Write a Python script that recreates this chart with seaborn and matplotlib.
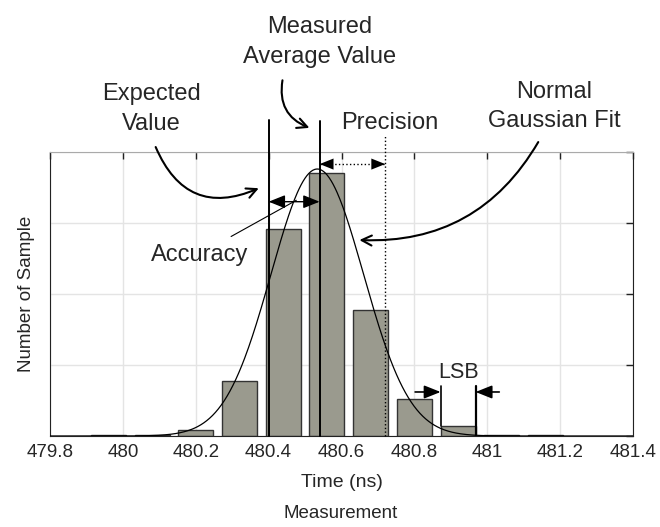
import matplotlib
matplotlib.use('Agg')
import matplotlib.pyplot as plt
import seaborn as sns
import numpy as np

# histogram of measured times (bin centres in ns, sample counts in arbitrary units)
bin_centers = [479.96, 480.08, 480.20, 480.32, 480.44, 480.56, 480.68, 480.80, 480.92, 481.04, 481.16]
sample_counts = [0.012, 0.012, 0.09, 0.77, 2.92, 3.71, 1.78, 0.52, 0.14, 0.02, 0.008]
bin_width = 0.12

xtick_values = [479.8, 480.0, 480.2, 480.4, 480.6, 480.8, 481.0, 481.2, 481.4]
xtick_labels = ['479.8', '480', '480.2', '480.4', '480.6', '480.8', '481', '481.2', '481.4']
ytick_values = [0, 1, 2, 3, 4]

expected_value = 480.40
measured_average = 480.54
precision_edge = 480.72
lsb_bin = 8  # index of the bin used to show one LSB

sns.set_style('white')
plt.rcParams['font.family'] = ['Liberation Sans', 'DejaVu Sans']
narrow = ['Liberation Sans Narrow', 'Liberation Sans', 'DejaVu Sans']

fig = plt.figure(figsize=(6.6, 5.27), dpi=100)
ax = fig.add_axes([50 / 660, 1 - 436 / 527, 583 / 660, 284 / 527])

edges = [c - bin_width / 2 for c in bin_centers] + [bin_centers[-1] + bin_width / 2]
sns.histplot(x=bin_centers, weights=sample_counts, bins=edges, shrink=0.8,
             color='#9a9a8e', edgecolor='#333333', linewidth=1, alpha=1, ax=ax, zorder=2)

# gaussian fit of the histogram (log-parabola least squares)
a, b, c = np.polyfit(bin_centers, np.log(sample_counts), 2, w=sample_counts)
mu = -b / (2 * a)
sigma = np.sqrt(-1 / (2 * a))
peak = np.exp(c - b ** 2 / (4 * a))
xs = np.linspace(479.8, 481.4, 600)
sns.lineplot(x=xs, y=peak * np.exp(-(xs - mu) ** 2 / (2 * sigma ** 2)),
             color='black', linewidth=0.9, ax=ax, zorder=4)

ax.set_xlim(479.8, 481.4)
ax.set_ylim(0, 4)
ax.set_xticks(xtick_values)
ax.set_xticklabels(xtick_labels, fontsize=13.5)
ax.set_yticks(ytick_values)
ax.tick_params(axis='y', labelleft=False)
ax.tick_params(direction='in', top=True, right=True, length=5, width=1, colors='#222222')
ax.tick_params(axis='x', labelcolor='#262626', pad=6)
ax.grid(True, color='#e4e4e4', linewidth=1)
ax.set_axisbelow(True)
for side in ['left', 'right', 'bottom']:
    ax.spines[side].set_color('#222222')
ax.spines['top'].set_color('#aaaaaa')
ax.set_xlabel('Time (ns)', fontsize=14, color='#262626', labelpad=9)
ax.set_ylabel('Number of Sample', fontsize=13.5, color='#262626', labelpad=11)
fig.text(341 / 660, 1 - 513 / 527, 'Measurement', ha='center', va='center',
         fontsize=13.5, color='#262626')

# reference lines
ax.plot([expected_value] * 2, [0, 4.45], color='black', lw=1.4, clip_on=False, zorder=5)
ax.plot([measured_average] * 2, [0, 4.44], color='black', lw=1.4, clip_on=False, zorder=5)
ax.plot([precision_edge] * 2, [0, 4.24], color='black', lw=1, ls=':', clip_on=False, zorder=5)

# accuracy arrow (solid) and precision arrow (dotted shaft, filled heads)
head = dict(mutation_scale=20, color='black', shrinkA=0, shrinkB=0)
ax.annotate('', xy=(measured_average, 3.30), xytext=(expected_value, 3.30),
            arrowprops=dict(head, arrowstyle='<|-|>,head_length=0.5,head_width=0.2', lw=1), zorder=6)
ax.plot([measured_average, precision_edge], [3.83, 3.83], color='black', lw=1, ls=':', zorder=6)
ax.annotate('', xy=(precision_edge, 3.83), xytext=(measured_average, 3.83),
            arrowprops=dict(head, arrowstyle='<|-|>,head_length=0.5,head_width=0.2', lw=0), zorder=6)

# LSB marker
lsb_left = bin_centers[lsb_bin] - 0.4 * bin_width
lsb_right = bin_centers[lsb_bin] + 0.4 * bin_width
ax.plot([lsb_left] * 2, [sample_counts[lsb_bin], 0.71], color='black', lw=1.2, zorder=5)
ax.plot([lsb_right] * 2, [0, 0.71], color='black', lw=1.6, zorder=5)
ax.annotate('', xy=(lsb_left, 0.62), xytext=(lsb_left - 0.07, 0.62),
            arrowprops=dict(head, arrowstyle='-|>,head_length=0.5,head_width=0.2', lw=1.2))
ax.annotate('', xy=(lsb_right, 0.62), xytext=(lsb_right + 0.065, 0.62),
            arrowprops=dict(head, arrowstyle='-|>,head_length=0.5,head_width=0.2', lw=1.2))
ax.text(bin_centers[lsb_bin], 0.90, 'LSB', ha='center', va='center', fontsize=15.5, family=narrow)

# callout texts
ax.text(480.079, 4.61, 'Expected\nValue', ha='center', va='center', fontsize=17,
        family=narrow, linespacing=1.45, clip_on=False)
ax.text(480.54, 5.55, 'Measured\nAverage Value', ha='center', va='center', fontsize=17,
        family=narrow, linespacing=1.45, clip_on=False)
ax.text(480.732, 4.41, 'Precision', ha='center', va='center', fontsize=17,
        family=narrow, clip_on=False)
ax.text(481.183, 4.64, 'Normal\nGaussian Fit', ha='center', va='center', fontsize=17,
        family=narrow, linespacing=1.45, clip_on=False)
ax.text(480.211, 2.55, 'Accuracy', ha='center', va='center', fontsize=17,
        family=narrow, clip_on=False)

curve_arrow = dict(arrowstyle='->', lw=1.5, color='black', mutation_scale=18,
                   shrinkA=0, shrinkB=0)
ax.annotate('', xy=(480.373, 3.49), xytext=(480.09, 4.07), annotation_clip=False,
            arrowprops=dict(curve_arrow, connectionstyle='arc3,rad=0.5'))
ax.annotate('', xy=(480.512, 4.34), xytext=(480.438, 5.01), annotation_clip=False,
            arrowprops=dict(curve_arrow, connectionstyle='arc3,rad=0.4'))
ax.annotate('', xy=(480.649, 2.76), xytext=(481.14, 4.14), annotation_clip=False,
            arrowprops=dict(curve_arrow, connectionstyle='arc3,rad=-0.3'))
ax.annotate('', xy=(480.476, 3.32), xytext=(480.297, 2.81), annotation_clip=False,
            arrowprops=dict(arrowstyle='-', lw=0.8, color='black', shrinkA=0, shrinkB=0))

fig.savefig('out.png', dpi=100)
